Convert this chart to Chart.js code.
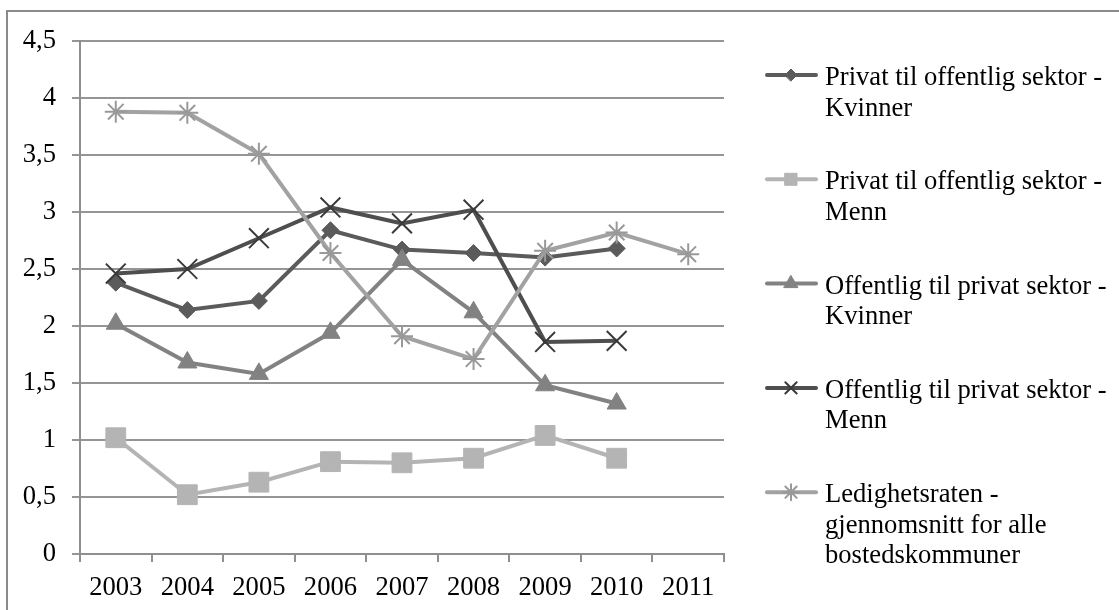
<!DOCTYPE html>
<html lang="no">
<head>
    <meta charset="UTF-8">
    <title>Mobilitet mellom sektorer og ledighetsrate</title>
    <script src="https://cdn.jsdelivr.net/npm/chart.js"></script>
    <style>
        body {
            margin: 0;
            background: white;
        }
        .wrap {
            position: relative;
            width: 1119px;
            height: 610px;
        }
    </style>
</head>
<body>
    <div class="wrap">
        <canvas id="mobilityChart"></canvas>
    </div>
    <script>
        let years = ["2003", "2004", "2005", "2006", "2007", "2008", "2009", "2010", "2011"];
        let privOffKvinner = [2.38, 2.14, 2.22, 2.84, 2.67, 2.64, 2.60, 2.68, null];
        let privOffMenn = [1.02, 0.52, 0.63, 0.81, 0.80, 0.84, 1.04, 0.84, null];
        let offPrivKvinner = [2.02, 1.68, 1.58, 1.94, 2.58, 2.12, 1.48, 1.32, null];
        let offPrivMenn = [2.46, 2.50, 2.77, 3.04, 2.90, 3.02, 1.86, 1.87, null];
        let ledighet = [3.88, 3.87, 3.51, 2.64, 1.91, 1.71, 2.66, 2.82, 2.63];

        // legend text, one entry per line
        let legendLines = [
            ["Privat til offentlig sektor -", "Kvinner"],
            ["Privat til offentlig sektor -", "Menn"],
            ["Offentlig til privat sektor -", "Kvinner"],
            ["Offentlig til privat sektor -", "Menn"],
            ["Ledighetsraten -", "gjennomsnitt for alle", "bostedskommuner"]
        ];

        Chart.defaults.font.family = "'Liberation Serif', 'Times New Roman', serif";
        Chart.defaults.font.size = 26;
        Chart.defaults.color = "#000";

        function series(label, data, color, style, radius, markerColor, markerWidth, order) {
            return {
                label: label,
                data: data,
                borderColor: color,
                backgroundColor: color,
                borderWidth: 4,
                pointStyle: style,
                pointRadius: radius,
                pointBackgroundColor: markerColor,
                pointBorderColor: markerColor,
                pointBorderWidth: markerWidth,
                tension: 0,
                spanGaps: false,
                order: order
            };
        }

        // white page + outer frame
        let framePlugin = {
            id: "frame",
            beforeDraw(chart) {
                let ctx = chart.ctx;
                ctx.save();
                ctx.fillStyle = "#fff";
                ctx.fillRect(0, 0, chart.width, chart.height);
                ctx.strokeStyle = "#8a8a8a";
                ctx.lineWidth = 2;
                ctx.strokeRect(7, 11, chart.width + 20, chart.height + 20);
                ctx.restore();
            }
        };

        // legend on the right, with wrapped labels
        let sideLegend = {
            id: "sideLegend",
            afterDraw(chart) {
                let ctx = chart.ctx;
                let sizes = [6, 8.5, 8, 8, 8];
                ctx.save();
                ctx.font = "26.6px 'Liberation Serif', 'Times New Roman', serif";
                ctx.textBaseline = "alphabetic";
                ctx.textAlign = "left";
                chart.data.datasets.forEach((ds, i) => {
                    let base = 85 + i * 104.3;
                    let ly = base - 10;
                    ctx.strokeStyle = ds.borderColor;
                    ctx.lineWidth = 4;
                    ctx.lineCap = "round";
                    ctx.beginPath();
                    ctx.moveTo(767, ly);
                    ctx.lineTo(816, ly);
                    ctx.stroke();
                    ctx.fillStyle = ds.pointBackgroundColor;
                    ctx.strokeStyle = ds.pointBorderColor;
                    ctx.lineWidth = ds.pointBorderWidth;
                    Chart.helpers.drawPoint(ctx, {
                        pointStyle: ds.pointStyle,
                        radius: sizes[i],
                        borderWidth: ds.pointBorderWidth,
                        rotation: 0
                    }, 791, ly);
                    ctx.fillStyle = "#000";
                    legendLines[i].forEach((line, j) => {
                        ctx.fillText(line, 825, base + j * 30.5);
                    });
                });
                ctx.restore();
            }
        };

        let ctx = document.getElementById("mobilityChart").getContext("2d");
        let mobilityChart = new Chart(ctx, {
            type: "line",
            data: {
                labels: years,
                datasets: [
                    series("Privat til offentlig sektor - Kvinner", privOffKvinner, "#5b5b5b", "rectRot", 8.5, "#5b5b5b", 1, 5),
                    series("Privat til offentlig sektor - Menn", privOffMenn, "#b4b4b4", "rect", 14, "#b4b4b4", 1, 4),
                    series("Offentlig til privat sektor - Kvinner", offPrivKvinner, "#828282", "triangle", 11, "#828282", 1, 3),
                    series("Offentlig til privat sektor - Menn", offPrivMenn, "#4e4e4e", "crossRot", 14, "#3a3a3a", 2, 2),
                    series("Ledighetsraten - gjennomsnitt for alle bostedskommuner", ledighet, "#a2a2a2", "star", 11, "#999999", 2, 1)
                ]
            },
            options: {
                responsive: true,
                maintainAspectRatio: false,
                animation: false,
                layout: {
                    padding: { left: 0, top: 41, right: 395, bottom: 0 }
                },
                plugins: {
                    legend: { display: false },
                    tooltip: { enabled: false }
                },
                scales: {
                    x: {
                        offset: true,
                        grid: {
                            offset: true,
                            drawOnChartArea: false,
                            drawTicks: true,
                            tickLength: 8,
                            color: "#8f8f8f",
                            lineWidth: 2
                        },
                        border: { color: "#8f8f8f", width: 2 },
                        ticks: {
                            padding: 10,
                            maxRotation: 0,
                            autoSkip: false,
                            font: { size: 26.6 }
                        },
                        afterFit(scale) { scale.height = 56; }
                    },
                    y: {
                        min: 0,
                        max: 4.5,
                        grid: {
                            color: "#959595",
                            lineWidth: 2,
                            drawTicks: true,
                            tickLength: 8
                        },
                        border: { color: "#8f8f8f", width: 2 },
                        ticks: {
                            stepSize: 0.5,
                            padding: 16,
                            font: { size: 26.6 },
                            callback: value => value.toString().replace(".", ",")
                        },
                        afterFit(scale) { scale.width = 80; }
                    }
                }
            },
            plugins: [framePlugin, sideLegend]
        });
    </script>
</body>
</html>
